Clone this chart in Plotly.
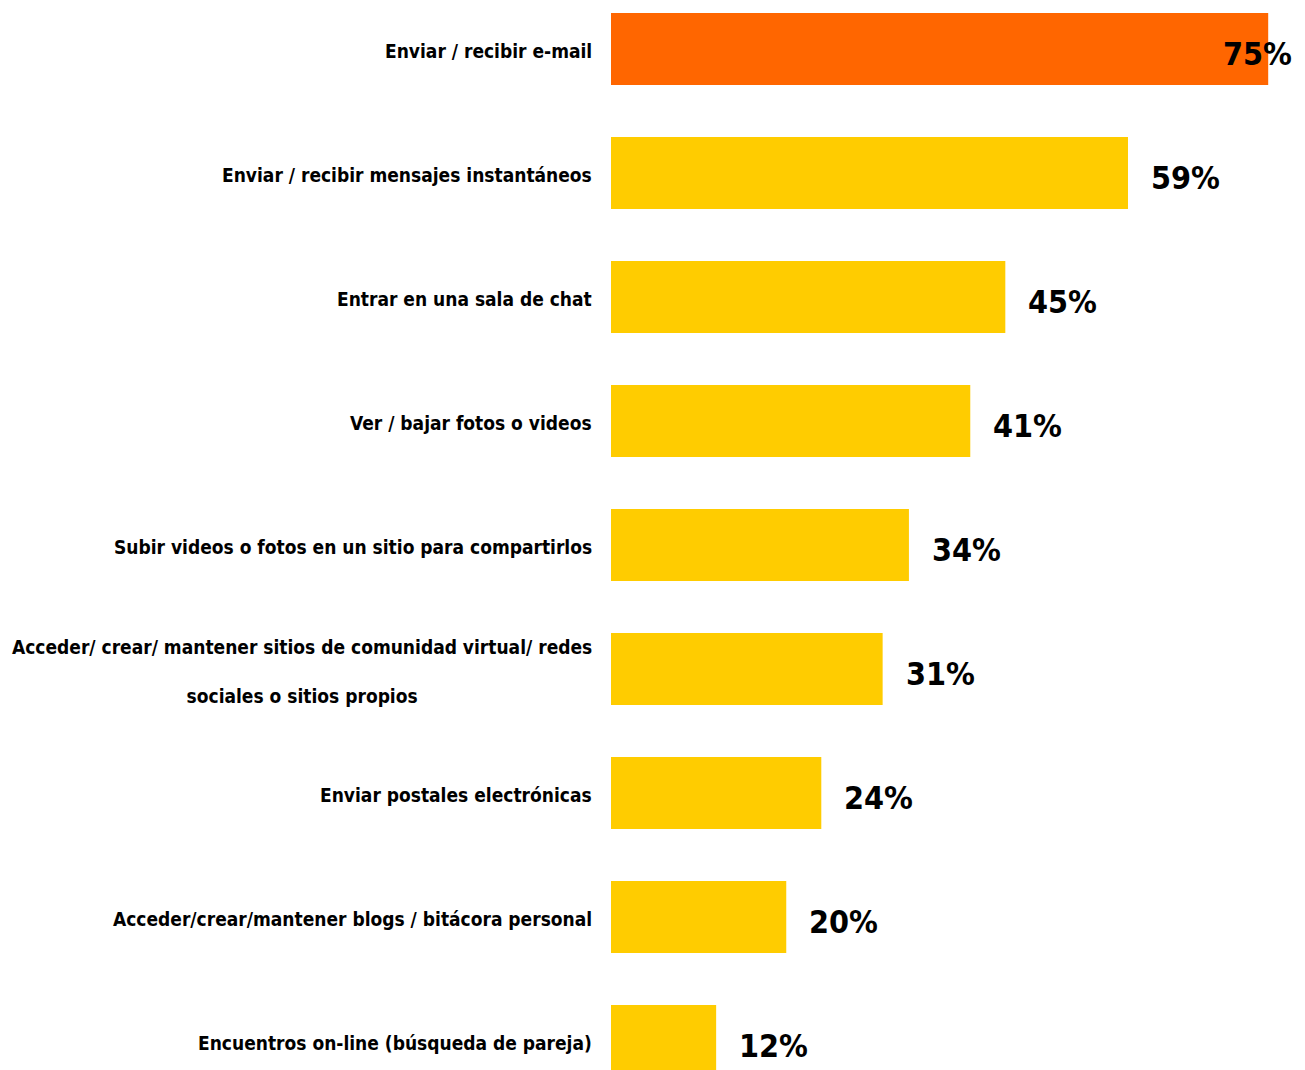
"""Horizontal bar chart: usos de Internet (comunicación)."""

import plotly.graph_objects as go

CATEGORIES = [
    "Enviar / recibir e-mail",
    "Enviar / recibir mensajes instantáneos",
    "Entrar en una sala de chat",
    "Ver / bajar fotos o videos",
    "Subir videos o fotos en un sitio para compartirlos",
    "Acceder/ crear/ mantener sitios de comunidad virtual/ redes<br> <br>sociales o sitios propios",
    "Enviar postales electrónicas",
    "Acceder/crear/mantener blogs / bitácora personal",
    "Encuentros on-line (búsqueda de pareja)",
]
VALUES = [75, 59, 45, 41, 34, 31, 24, 20, 12]
LABELS = ["75%", "59%", "45%", "41%", "34%", "31%", "24%", "20%", "12%"]

ORANGE = "#FF6600"
YELLOW = "#FFCC00"
FONT = "DejaVu Sans Condensed, Liberation Sans Narrow, Arial Narrow, sans-serif"

colors = [ORANGE] + [YELLOW] * (len(VALUES) - 1)
ids = list(range(len(CATEGORIES)))

fig = go.Figure(go.Bar(
    x=VALUES, y=ids, orientation="h",
    marker=dict(color=colors, line=dict(width=0)),
    width=0.58, hoverinfo="skip",
))

annotations = []
for i, (cat, val, lab) in enumerate(zip(CATEGORIES, VALUES, LABELS)):
    annotations.append(dict(
        x=0, y=i, xref="paper", yref="y", text="<b>%s</b>" % cat, showarrow=False,
        xanchor="right", yanchor="middle", align="center", xshift=-17, yshift=-2,
        font=dict(family=FONT, size=19, color="#000000"),
    ))
    # the top label does not fit past the bar end, so it sits over it
    first = i == 0
    annotations.append(dict(
        x=val, y=i, xref="x", yref="y", text="<b>%s</b>" % lab, showarrow=False,
        xanchor="right" if first else "left", yanchor="middle",
        xshift=26 if first else 21, yshift=-5,
        font=dict(family=FONT, size=32, color="#000000"),
    ))

# page body has an 8px margin, so the figure is 8px smaller than the window
fig.update_layout(
    width=1297, height=1062,
    margin=dict(l=603, r=0, t=0, b=0),
    paper_bgcolor="#ffffff", plot_bgcolor="#ffffff",
    showlegend=False,
    annotations=annotations,
    xaxis=dict(range=[0, 79.2], visible=False, fixedrange=True),
    yaxis=dict(range=[8.234, -0.331], visible=False, fixedrange=True),
    font=dict(family=FONT, color="#000000"),
)

fig.write_html("out.html", config={"displayModeBar": False})
